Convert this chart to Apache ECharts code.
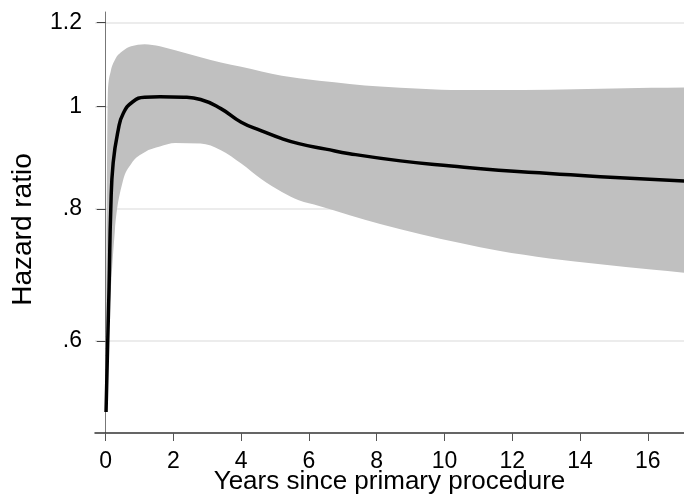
<!DOCTYPE html>
<html>
<head>
<meta charset="utf-8">
<script src="https://cdn.jsdelivr.net/npm/echarts@6/dist/echarts.min.js"></script>
<style>
  html, body { margin: 0; padding: 0; background: #ffffff; }
  #chart { width: 684px; height: 494px; }
</style>
</head>
<body>
<div id="chart"></div>
<script>
// Estimated hazard ratio over time since the primary procedure
const curveYears = [0.01, 0.06, 0.10, 0.15, 0.22, 0.37, 0.52, 0.8, 1.15, 1.6, 2.3, 2.8, 3.4, 4.0, 4.6, 5.2, 5.7, 6.5, 7.2, 8.7, 10.2, 11.6, 13.1, 14.6, 17.1];
const hazardRatio = [0.514, 0.60, 0.675, 0.80, 0.884, 0.950, 0.985, 1.010, 1.020, 1.021, 1.020, 1.015, 0.995, 0.966, 0.948, 0.932, 0.922, 0.911, 0.902, 0.888, 0.878, 0.870, 0.864, 0.858, 0.850];

// 95% confidence band
const bandYears = [0.01, 0.07, 0.15, 0.27, 0.5, 0.75, 1.15, 1.6, 2.05, 2.8, 3.4, 4.0, 4.6, 5.2, 5.7, 6.3, 7.2, 8.1, 9.3, 10.5, 11.6, 13.1, 14.6, 16.1, 17.1];
const ciUpper = [0.53, 1.043, 1.08, 1.106, 1.128, 1.140, 1.145, 1.140, 1.130, 1.113, 1.100, 1.090, 1.079, 1.069, 1.063, 1.057, 1.050, 1.044, 1.039, 1.036, 1.036, 1.037, 1.039, 1.041, 1.042];
const ciLower = [0.51, 0.60, 0.67, 0.762, 0.848, 0.882, 0.905, 0.916, 0.923, 0.922, 0.909, 0.883, 0.853, 0.830, 0.815, 0.805, 0.789, 0.774, 0.757, 0.742, 0.730, 0.718, 0.709, 0.701, 0.696];

const xTicks = [0, 2, 4, 6, 8, 10, 12, 14, 16];
const yTicks = [0.6, 0.8, 1, 1.2];
const yTickLabels = ['.6', '.8', '1', '1.2'];

const FONT = 'Liberation Sans, Arial, Helvetica, sans-serif';

const chart = echarts.init(document.getElementById('chart'), null, { renderer: 'canvas' });

const bandData = bandYears.map((t, i) => [t, ciLower[i], ciUpper[i]]);
const curve = curveYears.map((t, i) => [t, hazardRatio[i]]);

// Monotone cubic (in x) Bezier segments through screen points
function monotoneSegments(pts) {
  const n = pts.length;
  const h = [], s = [], m = new Array(n);
  for (let i = 0; i < n - 1; i++) {
    h.push(pts[i + 1][0] - pts[i][0]);
    s.push((pts[i + 1][1] - pts[i][1]) / h[i]);
  }
  for (let i = 1; i < n - 1; i++) {
    const s0 = s[i - 1], s1 = s[i];
    if (s0 * s1 <= 0) { m[i] = 0; continue; }
    const p = (s0 * h[i] + s1 * h[i - 1]) / (h[i - 1] + h[i]);
    m[i] = (Math.sign(s0) + Math.sign(s1)) * Math.min(Math.abs(s0), Math.abs(s1), 0.5 * Math.abs(p));
  }
  m[0] = (3 * s[0] - m[1]) / 2;
  m[n - 1] = (3 * s[n - 2] - m[n - 2]) / 2;
  const segs = [];
  for (let i = 0; i < n - 1; i++) {
    const d = h[i] / 3;
    segs.push({
      p0: pts[i],
      c1: [pts[i][0] + d, pts[i][1] + d * m[i]],
      c2: [pts[i + 1][0] - d, pts[i + 1][1] - d * m[i + 1]],
      p1: pts[i + 1]
    });
  }
  return segs;
}

// Shaded band: upper edge left to right, lower edge back right to left
function renderBand(params, api) {
  if (params.dataIndex !== 0) return null;
  const upper = bandYears.map((t, i) => api.coord([t, ciUpper[i]]));
  const lower = bandYears.map((t, i) => api.coord([t, ciLower[i]]));
  const f = (p) => p[0].toFixed(2) + ' ' + p[1].toFixed(2);
  const up = monotoneSegments(upper);
  const lo = monotoneSegments(lower).reverse();
  let d = 'M ' + f(upper[0]);
  up.forEach((g) => { d += ' C ' + f(g.c1) + ' ' + f(g.c2) + ' ' + f(g.p1); });
  d += ' L ' + f(lower[lower.length - 1]);
  lo.forEach((g) => { d += ' C ' + f(g.c2) + ' ' + f(g.c1) + ' ' + f(g.p0); });
  d += ' Z';
  return {
    type: 'path',
    shape: { pathData: d },
    style: { fill: '#c0c0c0', stroke: null }
  };
}

chart.setOption({
  animation: false,
  backgroundColor: '#ffffff',
  grid: { left: 95, right: 0, top: 12, bottom: 61, containLabel: false, outerBoundsMode: 'none' },
  xAxis: {
    type: 'value',
    min: -0.316,
    max: 17.07,
    name: 'Years since primary procedure',
    nameLocation: 'middle',
    nameGap: 36,
    nameMoveOverlap: false,
    nameTextStyle: { fontFamily: FONT, fontSize: 26, color: '#000' },
    axisLine: { show: true, lineStyle: { color: '#333', width: 1.5 } },
    axisTick: { show: true, length: 8, customValues: xTicks, lineStyle: { color: '#555', width: 1 } },
    axisLabel: { customValues: xTicks, margin: 17, fontFamily: FONT, fontSize: 23, color: '#000' },
    splitLine: { show: false }
  },
  yAxis: {
    type: 'log',
    logBase: Math.E,
    min: 0.491,
    max: 1.228,
    name: 'Hazard ratio',
    nameLocation: 'middle',
    nameGap: 58,
    nameTextStyle: { fontFamily: FONT, fontSize: 28, color: '#000', padding: [0, 14, 0, 0] },
    axisLine: { show: true, lineStyle: { color: '#777', width: 1 } },
    axisTick: { show: true, length: 9, customValues: yTicks, lineStyle: { color: '#444', width: 1 } },
    axisLabel: {
      customValues: yTicks,
      margin: 13,
      fontFamily: FONT,
      fontSize: 23,
      color: '#000',
      formatter: (v) => {
        const i = yTicks.findIndex((t) => Math.abs(t - v) < 1e-6);
        return i >= 0 ? yTickLabels[i] : '';
      }
    },
    splitLine: { show: true, lineStyle: { color: '#e6e6e6', width: 1.5 } }
  },
  series: [
    {
      name: '95% CI',
      type: 'custom',
      data: bandData,
      encode: { x: 0, y: [1, 2] },
      renderItem: renderBand,
      clip: true,
      silent: true,
      z: 1
    },
    {
      name: 'Hazard ratio',
      type: 'line',
      data: curve,
      symbol: 'none',
      smooth: 0.5,
      lineStyle: { color: '#000000', width: 3.5 },
      clip: true,
      z: 3
    }
  ]
});
</script>
</body>
</html>
